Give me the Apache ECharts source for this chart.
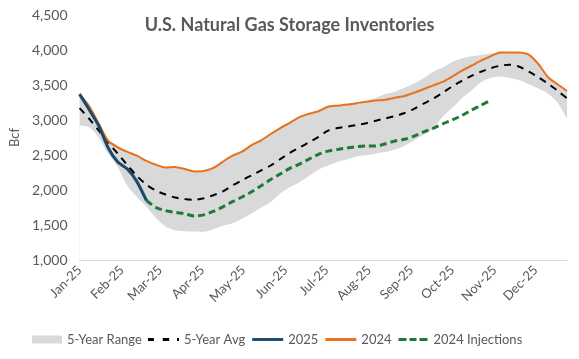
<!DOCTYPE html>
<html>
<head>
<meta charset="utf-8">
<script src="https://cdn.jsdelivr.net/npm/echarts@6/dist/echarts.min.js"></script>
<style>
html,body{margin:0;padding:0;background:#fff;}
#chart{width:579px;height:359px;}
</style>
</head>
<body>
<div id="chart"></div>
<script>
// Weekly report dates (2025)
const weekDates = [
 '2025-01-03','2025-01-10','2025-01-17','2025-01-24','2025-01-31',
 '2025-02-07','2025-02-14','2025-02-21','2025-02-28',
 '2025-03-07','2025-03-14','2025-03-21','2025-03-28',
 '2025-04-04','2025-04-11','2025-04-18','2025-04-25',
 '2025-05-02','2025-05-09','2025-05-16','2025-05-23','2025-05-30',
 '2025-06-06','2025-06-13','2025-06-20','2025-06-27',
 '2025-07-04','2025-07-11','2025-07-18','2025-07-25',
 '2025-08-01','2025-08-08','2025-08-15','2025-08-22','2025-08-29',
 '2025-09-05','2025-09-12','2025-09-19','2025-09-26',
 '2025-10-03','2025-10-10','2025-10-17','2025-10-24','2025-10-31',
 '2025-11-07','2025-11-14','2025-11-21','2025-11-28',
 '2025-12-05','2025-12-12','2025-12-19','2025-12-26'
];
const monthLabels = ['Jan-25','Feb-25','Mar-25','Apr-25','May-25','Jun-25','Jul-25','Aug-25','Sep-25','Oct-25','Nov-25','Dec-25'];
const monthTickDates = ['2025-01-03','2025-02-03','2025-03-03','2025-04-03','2025-05-03','2025-06-03','2025-07-03','2025-08-03','2025-09-03','2025-10-03','2025-11-03','2025-12-03'];
const yTicks = [1000,1500,2000,2500,3000,3500,4000,4500];

const rangeMin = [2920,2895,2750,2520,2330,2060,1900,1760,1600,1480,1425,1412,1408,1405,1440,1490,1525,1590,1665,1750,
 1830,1950,2040,2110,2200,2290,2350,2400,2440,2478,2495,2520,2545,2580,2630,2710,2790,2880,3050,3170,
 3310,3420,3540,3600,3620,3600,3570,3510,3450,3380,3250,3020];
const rangeMax = [3370,3215,2970,2730,2630,2545,2490,2415,2360,2320,2330,2300,2265,2270,2315,2405,2490,2548,2640,2710,
 2800,2885,2960,3040,3090,3125,3190,3205,3220,3240,3270,3315,3370,3405,3460,3520,3595,3690,3750,3830,
 3880,3910,3930,3950,3965,3970,3970,3945,3815,3630,3520,3425];
const avg5 = [3170,3020,2850,2675,2520,2355,2200,2075,1990,1935,1893,1870,1860,1882,1925,1980,2065,2140,2210,2280,
 2350,2440,2530,2605,2680,2760,2847,2885,2906,2930,2955,2990,3023,3057,3100,3160,3235,3305,3390,3480,
 3560,3630,3690,3740,3775,3790,3760,3690,3610,3520,3420,3310];
const y2025 = [3370,3150,2920,2600,2400,2300,2120,1850];
const y2024 = [3370,3200,2950,2700,2610,2545,2490,2415,2360,2320,2330,2300,2265,2270,2315,2405,2490,2548,2640,2710,
 2800,2885,2960,3040,3090,3125,3190,3205,3220,3240,3262,3277,3290,3318,3343,3390,3440,3495,3545,3620,
 3705,3775,3847,3910,3965,3965,3965,3935,3800,3615,3510,3415];
// 2024 injections applied from the last 2025 report onward
const injStartIndex = 7;
const inj2024 = [1850,1750,1705,1680,1660,1630,1645,1695,1760,1833,1900,1975,2060,2150,2230,2310,2370,2440,2510,2555,
 2580,2600,2620,2629,2629,2660,2700,2724,2770,2830,2880,2945,3000,3065,3140,3210,3280];

// convert a date string to days since the first report (numeric x for a value axis)
const t0 = Date.UTC(2025,0,3);
const dayOf = (s) => { const p = s.split('-').map(Number); return Math.round((Date.UTC(p[0],p[1]-1,p[2]) - t0)/86400000); };
const weekX = weekDates.map(dayOf);
const monthX = monthTickDates.map(dayOf);

const pair = (vals, start) => vals.map((v,i)=>[weekX[(start||0)+i], v]);

const labelFont = 'Lato';
const txtColor = '#595959';
const C_AVG = '#000000', C_25 = '#1a4a6e', C_24 = '#e9711c', C_INJ = '#1e7b34', C_RANGE = '#d9d9d9';

const chart = echarts.init(document.getElementById('chart'), null, {renderer:'canvas'});
chart.setOption({
  animation:false,
  backgroundColor:'#fff',
  title:{
    text:'U.S. Natural Gas Storage Inventories',
    left:'center', top:11,
    textStyle:{fontFamily:labelFont, fontSize:18, fontWeight:'bold', color:txtColor}
  },
  legend:[
    {
      left:27, top:328,
      itemWidth:30, itemHeight:8,
      textStyle:{fontFamily:labelFont, fontSize:13, color:txtColor},
      data:[{name:'5-Year Range', icon:'rect', itemStyle:{color:C_RANGE}}]
    },
    {
      left:143, top:328,
      itemWidth:31, itemHeight:3, itemGap:7,
      textStyle:{fontFamily:labelFont, fontSize:13, color:txtColor},
      data:[
        {name:'5-Year Avg', icon:'path://M0,0h6v3h-6zM15,0h6.5v3h-6.5zM29.5,0h2v3h-2z', itemStyle:{color:C_AVG}},
        {name:'2025', icon:'path://M0,0h32v3h-32z', itemStyle:{color:C_25}},
        {name:'2024', icon:'path://M0,0h32v3h-32z', itemStyle:{color:C_24}},
        {name:'2024 Injections', icon:'path://M0,0h8v3h-8zM11,0h7v3h-7zM21,0h8v3h-8z', itemStyle:{color:C_INJ}}
      ]
    }
  ],
  grid:{left:66, right:12, top:15, bottom:99},
  xAxis:{
    type:'value', z:5,
    min:weekX[0], max:weekX[weekX.length-1],
    axisLine:{show:true, onZero:false, lineStyle:{color:'#d9d9d9', width:1}},
    axisTick:{show:false},
    splitLine:{show:false},
    axisLabel:{
      customValues:monthX,
      rotate:45, margin:8,
      fontFamily:labelFont, fontSize:13, color:txtColor,
      formatter:(v)=> { const i = monthX.indexOf(v); return i >= 0 ? monthLabels[i] : ''; }
    }
  },
  yAxis:{
    type:'value', min:yTicks[0], max:yTicks[yTicks.length-1], interval:500,
    name:'Bcf', nameLocation:'middle', nameGap:53, nameRotate:90,
    nameTextStyle:{fontFamily:labelFont, fontSize:13, color:txtColor},
    axisLine:{show:false}, axisTick:{show:false},
    splitLine:{show:false},
    axisLabel:{margin:12, fontFamily:labelFont, fontSize:14, color:txtColor,
      formatter:(v)=> v.toLocaleString('en-US')}
  },
  series:[
    {name:'5-Year Range', type:'line', data:pair(rangeMax), symbol:'none', smooth:0.3,
      lineStyle:{width:0, opacity:0}, itemStyle:{color:C_RANGE},
      areaStyle:{color:C_RANGE, opacity:1, origin:'start'}},
    {name:'rangeMask', type:'line', data:pair(rangeMin), symbol:'none', smooth:0.3, silent:true,
      lineStyle:{width:0, opacity:0}, itemStyle:{color:'#fff'},
      areaStyle:{color:'#ffffff', opacity:1, origin:'start'}},
    {name:'5-Year Avg', type:'line', data:pair(avg5), symbol:'none', smooth:0.3,
      lineStyle:{color:C_AVG, width:2, type:[7,6]}, itemStyle:{color:C_AVG}},
    {name:'2024 Injections', type:'line', data:pair(inj2024, injStartIndex), symbol:'none', smooth:0.3,
      lineStyle:{color:C_INJ, width:3, type:[7,4]}, itemStyle:{color:C_INJ}},
    {name:'2024', type:'line', data:pair(y2024), symbol:'none', smooth:0.2,
      lineStyle:{color:C_24, width:2}, itemStyle:{color:C_24}},
    {name:'2025', type:'line', data:pair(y2025), symbol:'none', smooth:0.2,
      lineStyle:{color:C_25, width:3}, itemStyle:{color:C_25}}
  ]
});
</script>
</body>
</html>
